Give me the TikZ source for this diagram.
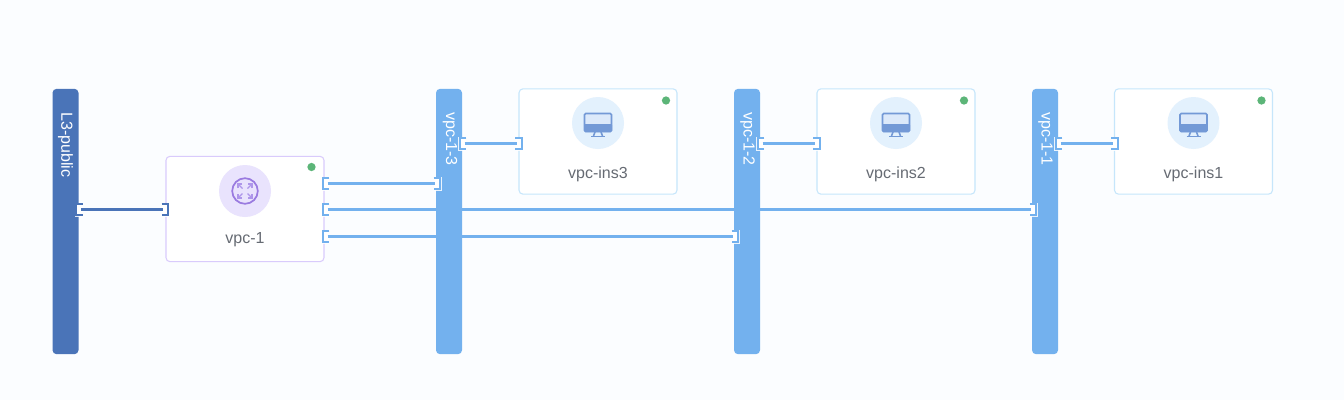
\documentclass[tikz,border=0pt]{standalone}
\usepackage{fontspec}
\setmainfont{Liberation Sans}
\definecolor{bgc}{HTML}{FBFDFF}
\definecolor{darkbar}{HTML}{4A74B8}
\definecolor{lightbar}{HTML}{73B1EE}
\definecolor{insborder}{HTML}{C6E6FB}
\definecolor{vpcborder}{HTML}{D9CBFC}
\definecolor{insdisc}{HTML}{E3F1FD}
\definecolor{vpcdisc}{HTML}{E9E3FD}
\definecolor{monitor}{HTML}{7399D6}
\definecolor{monitorlight}{HTML}{DCE9FA}
\definecolor{ring}{HTML}{9A7BE0}
\definecolor{ringlight}{HTML}{AE96EA}
\definecolor{dotgreen}{HTML}{5CB578}
\definecolor{labelc}{HTML}{666B73}
\tikzset{
  x=0.75pt,y=-0.75pt,
  bar/.style={fill=#1,rounded corners=3pt,minimum width=19.5pt,minimum height=199pt,inner sep=0pt,draw=none},
  bartext/.style={rotate=-90,anchor=west,text=white,font=\fontsize{12pt}{14pt}\selectfont,inner sep=0pt},
  card/.style={fill=white,draw=#1,line width=0.8pt,rounded corners=3pt,minimum width=118.5pt,minimum height=79pt,inner sep=0pt},
  cardtext/.style={text=labelc,font=\fontsize{12pt}{14pt}\selectfont,inner sep=0pt},
  disc/.style={circle,fill=#1,minimum size=39pt,inner sep=0pt},
  status/.style={circle,fill=dotgreen,minimum size=6.2pt,inner sep=0pt},
  portbox/.style={fill=white,minimum width=4.5pt,minimum height=7.5pt,inner sep=0pt},
  halo/.style={draw=white,line width=3pt,opacity=0.85,miter limit=10},
  bracket/.style={draw=#1,line width=1.6pt,miter limit=10},
  wire/.style={draw=#1,line width=1.8pt,shorten <=1.2pt,shorten >=1.2pt},
}
\newcommand{\leftport}[4]{% opening towards right: [
  \path (#2,#3) coordinate (#1tmp);
  \draw[halo] ([shift={(3,-5)}]#1tmp) -- ([shift={(-3,-5)}]#1tmp) -- ([shift={(-3,5)}]#1tmp) -- ([shift={(3,5)}]#1tmp);
  \node[portbox] (#1) at (#1tmp) {};
  \draw[bracket=#4] (#1.north east) -- (#1.north west) -- (#1.south west) -- (#1.south east);}
\newcommand{\rightport}[4]{% opening towards left: ]
  \path (#2,#3) coordinate (#1tmp);
  \draw[halo] ([shift={(-3,-5)}]#1tmp) -- ([shift={(3,-5)}]#1tmp) -- ([shift={(3,5)}]#1tmp) -- ([shift={(-3,5)}]#1tmp);
  \node[portbox] (#1) at (#1tmp) {};
  \draw[bracket=#4] (#1.north west) -- (#1.north east) -- (#1.south east) -- (#1.south west);}
\newcommand{\moni}[2]{%
  \begin{scope}[shift={(#1,#2)}]
    \fill[monitorlight,rounded corners=0.8pt] (-14,-10) rectangle (14,8);
    \fill[monitor,rounded corners=0.8pt] (-14,1) rectangle (14,9);
    \draw[monitor,line width=1.2pt,rounded corners=1pt] (-13.5,-9.5) rectangle (13.5,8.5);
    \draw[monitor,line width=1.2pt] (-3,9) -- (-4.5,13) (3,9) -- (4.5,13);
    \draw[monitor,line width=1.1pt] (-7,13.3) -- (7,13.3);
  \end{scope}}
\begin{document}
\begin{tikzpicture}
\useasboundingbox (0,0) rectangle (1344,400);
\fill[bgc] (0,0) rectangle (1344,400);

% bars
\node[bar=darkbar] (bL) at (65.5,221.5) {};
\node[bar=lightbar] (b3) at (449,221.5) {};
\node[bar=lightbar] (b2) at (747,221.5) {};
\node[bar=lightbar] (b1) at (1045,221.5) {};
\node[bartext] (tL) at (65.5,112) {L3-public};
\node[bartext] (t3) at (450,112) {vpc-1-3};
\node[bartext] (t2) at (747.5,112) {vpc-1-2};
\node[bartext] (t1) at (1045.5,112) {vpc-1-1};

% cards
\node[card=vpcborder] (cv) at (245,209) {};
\node[card=insborder] (c3) at (598,141.5) {};
\node[card=insborder] (c2) at (896,141.5) {};
\node[card=insborder] (c1) at (1193.5,141.5) {};

\node[disc=vpcdisc] (dv) at (245,191) {};
\node[disc=insdisc] (d3) at (598,123) {};
\node[disc=insdisc] (d2) at (896,123) {};
\node[disc=insdisc] (d1) at (1193.5,123) {};

\node[status] (sv) at (311.5,167) {};
\node[status] (s3) at (666,100.5) {};
\node[status] (s2) at (964,100.5) {};
\node[status] (s1) at (1261.5,100.5) {};

\node[cardtext] (lv) at (245,239.5) {vpc-1};
\node[cardtext] (l3) at (598,174) {vpc-ins3};
\node[cardtext] (l2) at (896,174) {vpc-ins2};
\node[cardtext] (l1) at (1193.5,174) {vpc-ins1};

% icons
\draw[ring,line width=1.3pt] (dv) circle (9.6pt);
\begin{scope}[shift={(245,191)}]
  \foreach \sx/\sy in {1/1,1/-1,-1/1,-1/-1}{
    \draw[ringlight,line width=0.9pt] (\sx*2.5,\sy*2.5) -- (\sx*6.5,\sy*6.5);
    \draw[ringlight,line width=0.9pt] (\sx*7,\sy*3) -- (\sx*7,\sy*7) -- (\sx*3,\sy*7);
  }
\end{scope}
\moni{598}{123}
\moni{896}{123}
\moni{1193.5}{123}

% connectors
\leftport{pLa}{79.5}{209.5}{darkbar}
\rightport{pVi}{165}{209.5}{darkbar}
\leftport{pV1}{326}{183.5}{lightbar}
\leftport{pV2}{326}{209.5}{lightbar}
\leftport{pV3}{326}{236.5}{lightbar}
\rightport{p3i}{437}{183.5}{lightbar}
\rightport{p1i}{1033}{209.5}{lightbar}
\rightport{p2i}{735}{236.5}{lightbar}
\leftport{p3o}{463}{143.5}{lightbar}
\rightport{pc3}{518.5}{143.5}{lightbar}
\leftport{p2o}{761}{143.5}{lightbar}
\rightport{pc2}{816.5}{143.5}{lightbar}
\leftport{p1o}{1059}{143.5}{lightbar}
\rightport{pc1}{1114.5}{143.5}{lightbar}

\draw[wire=darkbar] (pLa.center) -- (pVi.center);
\draw[wire=lightbar] (pV1.center) -- (p3i.center);
\draw[wire=lightbar] (pV2.center) -- (p1i.center);
\draw[wire=lightbar] (pV3.center) -- (p2i.center);
\draw[wire=lightbar] (p3o.center) -- (pc3.center);
\draw[wire=lightbar] (p2o.center) -- (pc2.center);
\draw[wire=lightbar] (p1o.center) -- (pc1.center);
\end{tikzpicture}
\end{document}
